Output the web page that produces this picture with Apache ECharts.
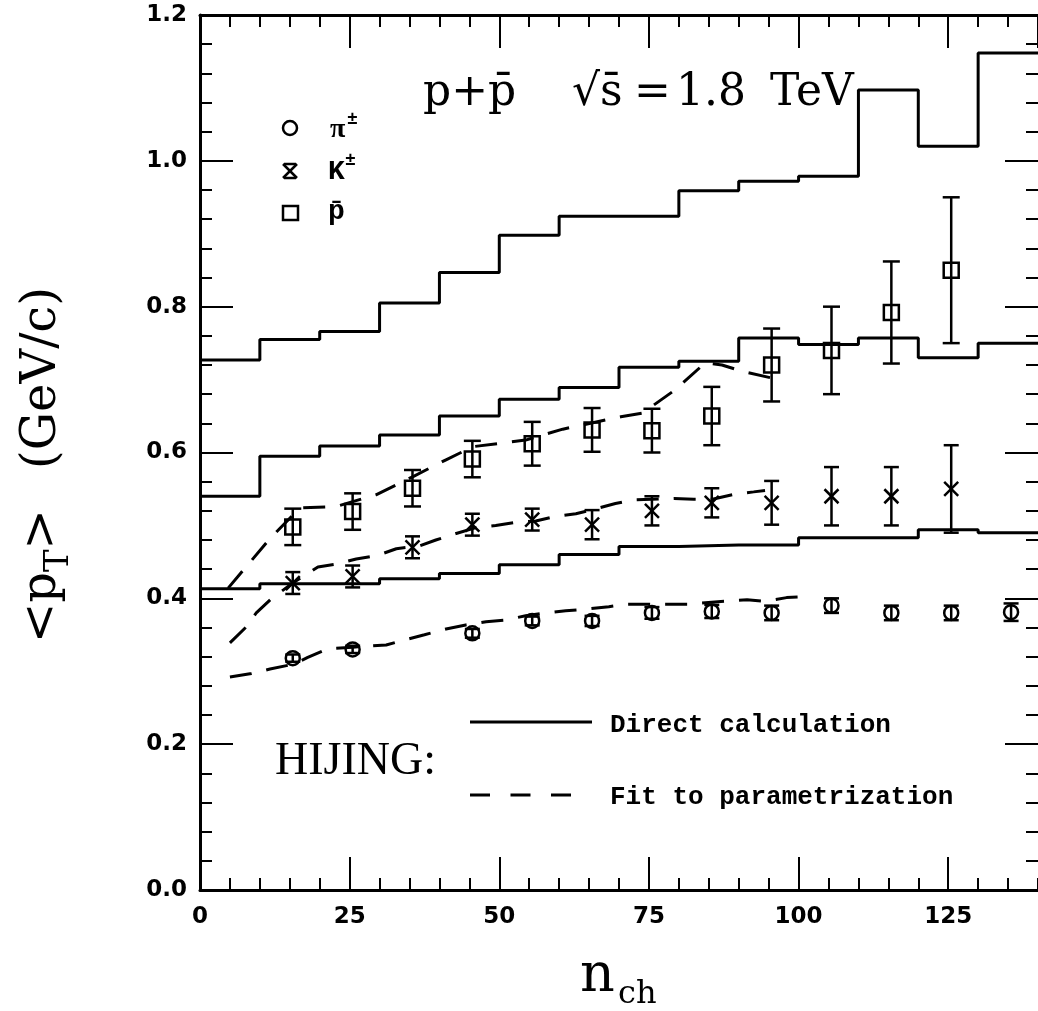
<!DOCTYPE html>
<html><head><meta charset="utf-8">
<script src="https://cdn.jsdelivr.net/npm/echarts@6/dist/echarts.min.js"></script>
<style>html,body{margin:0;padding:0;background:#fff}#c{width:1038px;height:1011px}</style>
</head><body><div id="c"></div>
<script>
// ---- data ----
const binEdges = [0,10,20,30,40,50,60,70,80,90,100,110,120,130,140];
const directHigh = [0.727,0.755,0.766,0.805,0.847,0.898,0.924,0.924,0.959,0.972,0.979,1.097,1.020,1.148];
const directMid  = [0.540,0.595,0.609,0.624,0.650,0.673,0.689,0.717,0.725,0.757,0.748,0.757,0.730,0.750];
const directLow  = [0.413,0.420,0.420,0.427,0.434,0.446,0.460,0.471,0.473,0.473,0.483,0.483,0.494,0.490];

const pbarX   = [15.5,25.5,35.5,45.5,55.5,65.5,75.5,85.5,95.5,105.5,115.5,125.5];
const pbarY   = [0.498,0.519,0.551,0.591,0.612,0.631,0.630,0.650,0.720,0.740,0.792,0.850];
const pbarErr = [0.025,0.025,0.025,0.025,0.030,0.030,0.030,0.040,0.050,0.060,0.070,0.100];

const kX   = [15.5,25.5,35.5,45.5,55.5,65.5,75.5,85.5,95.5,105.5,115.5,125.5];
const kY   = [0.421,0.430,0.470,0.501,0.508,0.501,0.520,0.531,0.531,0.540,0.540,0.550];
const kErr = [0.015,0.015,0.015,0.015,0.015,0.020,0.020,0.020,0.030,0.040,0.040,0.060];

const piX   = [15.5,25.5,45.5,55.5,65.5,75.5,85.5,95.5,105.5,115.5,125.5,135.5];
const piY   = [0.318,0.330,0.352,0.369,0.369,0.380,0.382,0.380,0.390,0.380,0.380,0.381];
const piErr = [0.005,0.005,0.006,0.006,0.007,0.008,0.009,0.010,0.010,0.010,0.010,0.012];

const fitPbar = [[4.7,0.414],[11.7,0.482],[16.7,0.524],[22.8,0.526],[29.4,0.542],[35.6,0.567],[41.1,0.590],[45.6,0.608],[54.4,0.617],[60.6,0.632],[70.3,0.649],[73.9,0.654],[79.4,0.686],[84.4,0.723],[87.2,0.720],[90.7,0.711],[95.6,0.702]];
const fitK = [[5,0.339],[7.5,0.359],[9.4,0.380],[12,0.400],[15.5,0.421],[19.7,0.443],[22.8,0.447],[26.1,0.454],[29.7,0.459],[32.8,0.468],[36.7,0.472],[39.4,0.480],[42.8,0.489],[46.1,0.497],[49.4,0.500],[52.5,0.504],[56.1,0.506],[59.2,0.512],[62.8,0.516],[65.8,0.522],[69.4,0.530],[72.5,0.535],[79.2,0.537],[82.5,0.536],[85.6,0.536],[89.4,0.543],[92.5,0.546],[94.4,0.548]];
const fitPi = [[5,0.292],[8.6,0.297],[11.7,0.303],[15.8,0.310],[18,0.319],[21.4,0.331],[25.5,0.333],[31.1,0.336],[34.7,0.344],[37.5,0.350],[41.1,0.358],[44.4,0.3635],[47.8,0.368],[50.8,0.370],[54.4,0.376],[57.2,0.3795],[61.1,0.383],[64.4,0.385],[68.3,0.3886],[71.1,0.392],[74.4,0.392],[77.8,0.392],[81.4,0.392],[86,0.395],[91.4,0.398],[94.4,0.396],[98,0.401],[100.3,0.402]];

const xTicksMajor = 25, xTicksMinor = 5;

// ---- helpers ----
const BLACK = '#000';
const stepData = vals => binEdges.map((e,i)=>[e, vals[Math.min(i, vals.length-1)]]);
const errData = (xs, ys, es) => xs.map((x,i)=>[x, ys[i], ys[i]-es[i], ys[i]+es[i]]);

function errSeries(shape, capW, data) {
  return {
    type:'custom', xAxisIndex:0, yAxisIndex:0, clip:false, z:5, data,
    renderItem:(params, api) => {
      const x=api.value(0), y=api.value(1), lo=api.value(2), hi=api.value(3);
      const c=api.coord([x,y]), cl=api.coord([x,lo]), chi=api.coord([x,hi]);
      const st={stroke:BLACK, lineWidth:2.5, fill:null};
      const ch=[
        {type:'line', shape:{x1:c[0],y1:cl[1],x2:c[0],y2:chi[1]}, style:st},
        {type:'line', shape:{x1:c[0]-capW/2,y1:cl[1],x2:c[0]+capW/2,y2:cl[1]}, style:st},
        {type:'line', shape:{x1:c[0]-capW/2,y1:chi[1],x2:c[0]+capW/2,y2:chi[1]}, style:st}
      ];
      if (shape==='square') ch.push({type:'rect', shape:{x:c[0]-7.5,y:c[1]-7.5,width:15,height:15}, style:st});
      if (shape==='circle') ch.push({type:'circle', shape:{cx:c[0],cy:c[1],r:7}, style:st});
      if (shape==='x') {
        ch.push({type:'line', shape:{x1:c[0]-7,y1:c[1]-7,x2:c[0]+7,y2:c[1]+7}, style:st});
        ch.push({type:'line', shape:{x1:c[0]+7,y1:c[1]-7,x2:c[0]-7,y2:c[1]+7}, style:st});
      }
      return {type:'group', children:ch};
    }
  };
}
function histSeries(vals){
  return {type:'line', step:'end', data:stepData(vals), showSymbol:false, symbol:'none',
    lineStyle:{color:BLACK,width:3}, z:3, silent:true};
}
function fitSeries(pts){
  return {type:'line', data:pts, showSymbol:false, symbol:'none', smooth:false,
    lineStyle:{color:BLACK,width:3,type:[22,15]}, z:3, silent:true};
}

const mctx = document.createElement('canvas').getContext('2d');
function tw(t, font){ mctx.font=font; return mctx.measureText(t).width; }

const tickFont = {fontFamily:'DejaVu Sans', fontWeight:'bold', fontSize:23, color:BLACK};
const lineOn  = {show:true, onZero:false, lineStyle:{color:BLACK,width:3}};
const lineOff = {show:false, onZero:false};
const majorTick = {show:true, inside:true, length:33, lineStyle:{color:BLACK,width:2}};
const minorTickX = {show:true, inside:true, length:12, lineStyle:{color:BLACK,width:2}};
const minorTickY = {show:true, splitNumber:5, length:12, lineStyle:{color:BLACK,width:2}};

const F_T = '48px "DejaVu Serif"', F_Ts = '34px "DejaVu Serif"', F_TI = '44px "DejaVu Serif"';
const w1 = tw('<p', F_T), wT = tw('T', F_Ts);

const option = {
  backgroundColor:'#fff',
  animation:false,
  grid:{left:200, top:15, width:840, height:875},
  xAxis:[
    {type:'value', position:'bottom', min:0, max:140, interval:xTicksMajor, splitLine:{show:false},
      axisLine:lineOn, axisTick:majorTick,
      axisLabel:Object.assign({margin:16, showMaxLabel:false}, tickFont)},
    {type:'value', position:'bottom', min:0, max:140, interval:xTicksMinor, splitLine:{show:false},
      axisLine:lineOff, axisTick:minorTickX, axisLabel:{show:false}},
    {type:'value', position:'top', min:0, max:140, interval:xTicksMajor, splitLine:{show:false},
      axisLine:lineOn, axisTick:majorTick, axisLabel:{show:false}},
    {type:'value', position:'top', min:0, max:140, interval:xTicksMinor, splitLine:{show:false},
      axisLine:lineOff, axisTick:minorTickX, axisLabel:{show:false}}
  ],
  yAxis:[
    {type:'value', position:'left', min:0, max:1.2, interval:0.2, splitLine:{show:false},
      axisLine:lineOn, axisTick:majorTick, minorTick:minorTickY,
      axisLabel:Object.assign({margin:13, formatter:v=>v.toFixed(1)}, tickFont)},
    {type:'value', position:'right', min:0, max:1.2, interval:0.2, splitLine:{show:false},
      axisLine:lineOff, axisTick:majorTick, minorTick:minorTickY, axisLabel:{show:false}}
  ],
  series:[
    histSeries(directHigh), histSeries(directMid), histSeries(directLow),
    fitSeries(fitPbar), fitSeries(fitK), fitSeries(fitPi),
    errSeries('square', 17, errData(pbarX,pbarY,pbarErr)),
    errSeries('x', 15, errData(kX,kY,kErr)),
    errSeries('circle', 15, errData(piX,piY,piErr))
  ],
  graphic:[
    {type:'group', x:57, y:643, rotation:Math.PI/2, children:[
      {type:'text', x:0, y:-14.4, style:{text:'<p', font:F_T, fill:BLACK, verticalAlign:'middle'}},
      {type:'text', x:w1, y:2.5, style:{text:'T', font:F_Ts, fill:BLACK, verticalAlign:'middle'}},
      {type:'text', x:w1+wT, y:-14.4, style:{text:'>', font:F_T, fill:BLACK, verticalAlign:'middle'}},
      {type:'text', x:174, y:-14.4, style:{text:'(GeV/c)', font:F_T, fill:BLACK, verticalAlign:'middle'}}
    ]},
    {type:'text', x:580, y:977, style:{text:'n', font:'54px "DejaVu Serif"', fill:BLACK, verticalAlign:'middle'}},
    {type:'text', x:618, y:995, style:{text:'ch', font:'32px "DejaVu Serif"', fill:BLACK, verticalAlign:'middle'}},
    // title
    {type:'text', x:423, y:94, style:{text:'p+p\u0304', font:F_TI, fill:BLACK, verticalAlign:'middle'}},
    {type:'text', x:572, y:94, style:{text:'\u221As\u0304', font:F_TI, fill:BLACK, verticalAlign:'middle'}},
    {type:'text', x:634, y:94, style:{text:'=', font:F_TI, fill:BLACK, verticalAlign:'middle'}},
    {type:'text', x:676, y:94, style:{text:'1.8', font:F_TI, fill:BLACK, verticalAlign:'middle'}},
    {type:'text', x:770, y:94, style:{text:'TeV', font:F_TI, fill:BLACK, verticalAlign:'middle'}},
    // legend symbols
    {type:'circle', shape:{cx:290, cy:128, r:7}, style:{fill:null, stroke:BLACK, lineWidth:2.5}},
    {type:'line', shape:{x1:283,y1:164,x2:297,y2:178}, style:{stroke:BLACK, lineWidth:2.5}},
    {type:'line', shape:{x1:297,y1:164,x2:283,y2:178}, style:{stroke:BLACK, lineWidth:2.5}},
    {type:'line', shape:{x1:284,y1:164,x2:296,y2:164}, style:{stroke:BLACK, lineWidth:2.5}},
    {type:'line', shape:{x1:284,y1:178,x2:296,y2:178}, style:{stroke:BLACK, lineWidth:2.5}},
    {type:'rect', shape:{x:283, y:206, width:15, height:14}, style:{fill:null, stroke:BLACK, lineWidth:2.5}},
    {type:'text', x:330, y:130, style:{text:'\u03C0', font:'bold 28px "Liberation Serif"', fill:BLACK, verticalAlign:'middle'}},
    {type:'text', x:347, y:119, style:{text:'\u00B1', font:'bold 18px "Liberation Mono"', fill:BLACK, verticalAlign:'middle'}},
    {type:'text', x:328, y:172, style:{text:'K', font:'bold 28px "Liberation Mono"', fill:BLACK, verticalAlign:'middle'}},
    {type:'text', x:345, y:160, style:{text:'\u00B1', font:'bold 18px "Liberation Mono"', fill:BLACK, verticalAlign:'middle'}},
    {type:'text', x:328, y:212, style:{text:'p\u0304', font:'bold 28px "Liberation Mono"', fill:BLACK, verticalAlign:'middle'}},
    {type:'text', x:275, y:762, style:{text:'HIJING:', font:'46px "Liberation Serif"', fill:BLACK, verticalAlign:'middle'}},
    {type:'line', shape:{x1:470,y1:722,x2:592,y2:722}, style:{stroke:BLACK, lineWidth:3}},
    {type:'line', shape:{x1:470,y1:795,x2:572,y2:795}, style:{stroke:BLACK, lineWidth:3, lineDash:[20,20.5]}},
    {type:'text', x:610, y:725, style:{text:'Direct calculation', font:'bold 26px "Liberation Mono"', fill:BLACK, verticalAlign:'middle'}},
    {type:'text', x:610, y:797, style:{text:'Fit to parametrization', font:'bold 26px "Liberation Mono"', fill:BLACK, verticalAlign:'middle'}}
  ]
};
const chart = echarts.init(document.getElementById('c'), null, {renderer:'canvas'});
chart.setOption(option);
</script></body></html>
